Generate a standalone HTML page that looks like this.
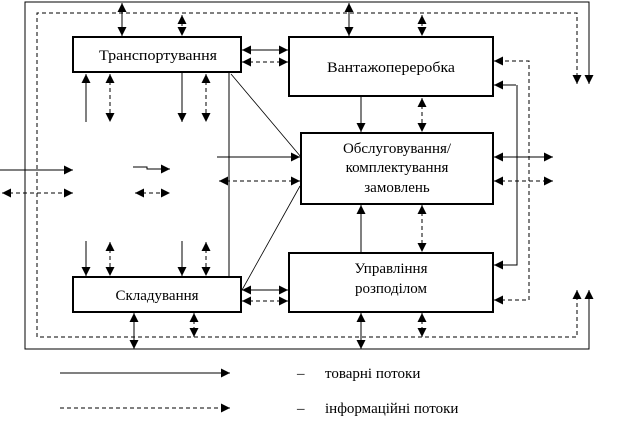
<!DOCTYPE html>
<html><head><meta charset="utf-8"><style>
html,body{margin:0;padding:0;background:#fff;}
svg{display:block;}
text{font-family:"Liberation Serif",serif;font-size:15px;fill:#000;}
</style></head><body>
<svg width="625" height="422" viewBox="0 0 625 422" xmlns="http://www.w3.org/2000/svg">
<defs>
<marker id="a" viewBox="0 0 10 10" refX="10" refY="5" markerWidth="10" markerHeight="9" markerUnits="userSpaceOnUse" orient="auto-start-reverse"><path d="M0,0 L10,5 L0,10 z" fill="#000"/></marker>
</defs>
<g stroke="#000" stroke-width="1" fill="none">
<polyline points="589,84 589,2 25,2 25,349 589,349 589,290" marker-start="url(#a)" marker-end="url(#a)"/>
<polyline points="577,84 577,13 37,13 37,337 577,337 577,290" stroke-dasharray="4,3" marker-start="url(#a)" marker-end="url(#a)"/>

<rect x="73" y="37" width="168" height="35" stroke-width="2"/>
<rect x="289" y="37" width="204" height="59" stroke-width="2"/>
<rect x="301" y="133" width="192" height="71" stroke-width="2"/>
<rect x="73" y="277" width="168" height="35" stroke-width="2"/>
<rect x="289" y="253" width="204" height="59" stroke-width="2"/>

<line x1="122" y1="3" x2="122" y2="36" marker-start="url(#a)" marker-end="url(#a)"/>
<line x1="182" y1="15" x2="182" y2="36" stroke-dasharray="4,3" marker-start="url(#a)" marker-end="url(#a)"/>
<line x1="349" y1="3" x2="349" y2="36" marker-start="url(#a)" marker-end="url(#a)"/>
<line x1="422" y1="15" x2="422" y2="36" stroke-dasharray="4,3" marker-start="url(#a)" marker-end="url(#a)"/>

<line x1="86" y1="122" x2="86" y2="74" marker-end="url(#a)"/>
<line x1="110" y1="74" x2="110" y2="122" stroke-dasharray="4,3" marker-start="url(#a)" marker-end="url(#a)"/>
<line x1="182" y1="73" x2="182" y2="122" marker-end="url(#a)"/>
<line x1="206" y1="74" x2="206" y2="122" stroke-dasharray="4,3" marker-start="url(#a)" marker-end="url(#a)"/>

<line x1="229" y1="73" x2="229" y2="276"/>
<line x1="231" y1="74" x2="301" y2="157" stroke-width="0.8"/>
<line x1="242" y1="290" x2="300" y2="186" stroke-width="0.8"/>

<line x1="242" y1="50" x2="288" y2="50" marker-start="url(#a)" marker-end="url(#a)"/>
<line x1="242" y1="62" x2="288" y2="62" stroke-dasharray="4,3" marker-start="url(#a)" marker-end="url(#a)"/>

<line x1="0" y1="170" x2="73" y2="170" marker-end="url(#a)"/>
<line x1="2" y1="193" x2="73" y2="193" stroke-dasharray="4,3" marker-start="url(#a)" marker-end="url(#a)"/>
<polyline points="133,167 147,167 147,169 170,169" marker-end="url(#a)"/>
<line x1="135" y1="193" x2="170" y2="193" stroke-dasharray="4,3" marker-start="url(#a)" marker-end="url(#a)"/>
<line x1="217" y1="157" x2="300" y2="157" marker-end="url(#a)"/>
<line x1="219" y1="181" x2="300" y2="181" stroke-dasharray="4,3" marker-start="url(#a)" marker-end="url(#a)"/>

<line x1="361" y1="97" x2="361" y2="132" marker-end="url(#a)"/>
<line x1="422" y1="98" x2="422" y2="132" stroke-dasharray="4,3" marker-start="url(#a)" marker-end="url(#a)"/>

<polyline points="529,300 529,61 494,61" stroke-dasharray="4,3" marker-end="url(#a)"/>
<polyline points="517,85 517,265 494,265" marker-end="url(#a)"/>
<line x1="494" y1="300" x2="528" y2="300" stroke-dasharray="4,3" marker-start="url(#a)"/>
<line x1="494" y1="85" x2="516" y2="85" marker-start="url(#a)"/>

<line x1="494" y1="157" x2="553" y2="157" marker-start="url(#a)" marker-end="url(#a)"/>
<line x1="494" y1="181" x2="553" y2="181" stroke-dasharray="4,3" marker-start="url(#a)" marker-end="url(#a)"/>

<line x1="361" y1="253" x2="361" y2="205" marker-end="url(#a)"/>
<line x1="422" y1="205" x2="422" y2="252" stroke-dasharray="4,3" marker-start="url(#a)" marker-end="url(#a)"/>

<line x1="361" y1="313" x2="361" y2="349" marker-start="url(#a)" marker-end="url(#a)"/>
<line x1="422" y1="313" x2="422" y2="337" stroke-dasharray="4,3" marker-start="url(#a)" marker-end="url(#a)"/>

<line x1="86" y1="241" x2="86" y2="276" marker-end="url(#a)"/>
<line x1="110" y1="242" x2="110" y2="276" stroke-dasharray="4,3" marker-start="url(#a)" marker-end="url(#a)"/>
<line x1="182" y1="241" x2="182" y2="276" marker-end="url(#a)"/>
<line x1="206" y1="242" x2="206" y2="276" stroke-dasharray="4,3" marker-start="url(#a)" marker-end="url(#a)"/>

<line x1="134" y1="313" x2="134" y2="349" marker-start="url(#a)" marker-end="url(#a)"/>
<line x1="194" y1="313" x2="194" y2="337" stroke-dasharray="4,3" marker-start="url(#a)" marker-end="url(#a)"/>

<line x1="242" y1="290" x2="288" y2="290" marker-start="url(#a)" marker-end="url(#a)"/>
<line x1="242" y1="301" x2="288" y2="301" stroke-dasharray="4,3" marker-start="url(#a)" marker-end="url(#a)"/>

<line x1="60" y1="373" x2="230" y2="373" marker-end="url(#a)"/>
<line x1="60" y1="408" x2="230" y2="408" stroke-dasharray="4,3" marker-end="url(#a)"/>
</g>

<g text-anchor="middle">
<text x="158" y="60" textLength="118" lengthAdjust="spacingAndGlyphs">Транспортування</text>
<text x="391" y="72" textLength="128" lengthAdjust="spacingAndGlyphs">Вантажопереробка</text>
<text x="397" y="153">Обслуговування/</text>
<text x="397" y="172">комплектування</text>
<text x="397" y="192">замовлень</text>
<text x="157" y="300">Складування</text>
<text x="391" y="273">Управління</text>
<text x="391" y="293">розподілом</text>
</g>
<g style="font-size:14px">
<text x="297" y="378">–</text>
<text x="325" y="378">товарні потоки</text>
<text x="297" y="413">–</text>
<text x="325" y="413">інформаційні потоки</text>
</g>
</svg>
</body></html>
